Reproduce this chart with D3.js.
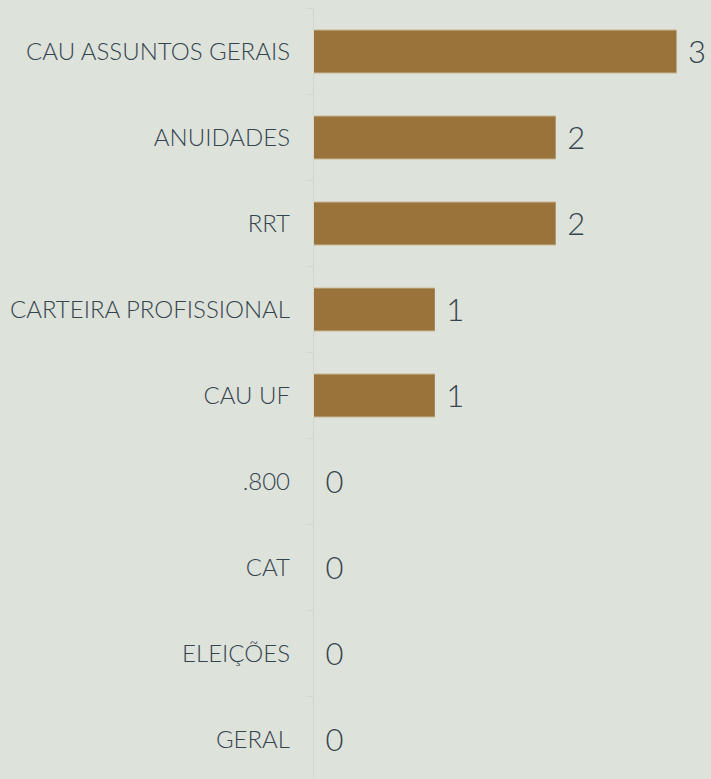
<!DOCTYPE html>
<html>
<head>
<meta charset="utf-8">
<script src="https://cdn.jsdelivr.net/npm/d3@7"></script>
<style>
  body { margin: 0; background: #dde2db; }
  svg { display: block; }
</style>
</head>
<body>
<svg id="chart" width="711" height="779"></svg>
<script>
// data
const categories = ["CAU ASSUNTOS GERAIS", "ANUIDADES", "RRT", "CARTEIRA PROFISSIONAL", "CAU UF", ".800", "CAT", "ELEIÇÕES", "GERAL"]
const counts = [3, 2, 2, 1, 1, 0, 0, 0, 0]

const data = categories.map((c, i) => ({ name: c, value: counts[i] }))

const svg = d3.select("#chart")
const x0 = 313.5

const x = d3.scaleLinear()
    .domain([0, 3])
    .range([x0, 676])

const y = d3.scaleBand()
    .domain(categories)
    .range([8.5, 782.5])
    .paddingInner(0.5)
    .paddingOuter(0.25)

// axis line + ticks between categories
const axis = svg.append("g")
axis.append("line")
    .attr("x1", x0).attr("x2", x0)
    .attr("y1", 8.5).attr("y2", 779)
    .attr("stroke", "#d3d5d1")
    .attr("stroke-width", 1)

const bounds = categories.map(c => y(c) - y.step() * 0.25)
axis.selectAll(".tk")
    .data(bounds)
    .enter().append("line")
    .attr("x1", x0 - 7).attr("x2", x0)
    .attr("y1", d => d).attr("y2", d => d)
    .attr("stroke", "#d3d5d1")

// bars
svg.selectAll(".bar")
    .data(data.filter(d => d.value > 0))
    .enter().append("rect")
    .attr("class", "bar")
    .attr("x", x(0) + 0.5)
    .attr("y", d => y(d.name))
    .attr("width", d => x(d.value) - x(0))
    .attr("height", y.bandwidth())
    .attr("fill", "#9a733a")

// thin light edges on bars
svg.selectAll(".edge")
    .data(data.filter(d => d.value > 0))
    .enter().append("g")
    .each(function(d) {
        const g = d3.select(this)
        ;[y(d.name), y(d.name) + y.bandwidth()].forEach(yy => {
            g.append("line")
                .attr("x1", x(0) + 0.5).attr("x2", x(d.value) + 0.5)
                .attr("y1", yy).attr("y2", yy)
                .attr("stroke", "#c9b893")
                .attr("stroke-width", 1)
        })
    })

// category labels
svg.selectAll(".cat")
    .data(data)
    .enter().append("text")
    .attr("x", 290)
    .attr("y", d => y(d.name) + y.bandwidth() / 2)
    .attr("dy", "0.36em")
    .attr("text-anchor", "end")
    .attr("font-family", "Lato, 'Open Sans', sans-serif")
    .attr("font-weight", 300)
    .attr("font-size", 24)
    .attr("fill", "#36444e")
    .text(d => d.name)

// value labels
svg.selectAll(".val")
    .data(data)
    .enter().append("text")
    .attr("x", d => x(d.value) + 12)
    .attr("y", d => y(d.name) + y.bandwidth() / 2)
    .attr("dy", "0.36em")
    .attr("font-family", "Lato, 'Open Sans', sans-serif")
    .attr("font-weight", 300)
    .attr("font-size", 31)
    .attr("fill", "#36444e")
    .text(d => d.value)
</script>
</body>
</html>
